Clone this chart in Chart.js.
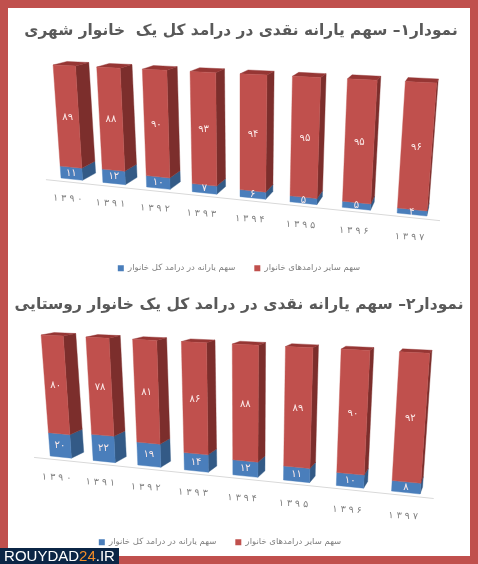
<!DOCTYPE html>
<html lang="fa">
<head>
<meta charset="utf-8">
<title>سهم یارانه نقدی</title>
<script src="https://cdn.jsdelivr.net/npm/chart.js@4"></script>
<style>
    html, body { margin: 0; padding: 0; }
    #frame { position: relative; width: 478px; height: 564px; background: #C0504D; overflow: hidden; }
    #paper { position: absolute; left: 8px; top: 8px; width: 462px; height: 548px; background: #fff; }
    canvas { position: absolute; left: 0; filter: blur(0.6px); }
    #urban { top: 0; }
    #rural { top: 285px; }
    #mark { position: absolute; left: 0; top: 548px; width: 119px; height: 16px; background: #0B2545; color: #fff;
            font: 15px/16px "Liberation Sans", sans-serif; text-align: center; white-space: nowrap; }
    #mark span { color: #F28C28; }
</style>
</head>
<body>
<div id="frame">
    <div id="paper"></div>
    <canvas id="urban" width="478" height="295" dir="rtl"></canvas>
    <canvas id="rural" width="478" height="295" dir="rtl"></canvas>
    <div id="mark">ROUYDAD<span>24</span>.IR</div>
</div>
<script>
// Data.
const years = ['۱۳۹۰', '۱۳۹۱', '۱۳۹۲', '۱۳۹۳', '۱۳۹۴', '۱۳۹۵', '۱۳۹۶', '۱۳۹۷'];
const urbanSubsidy = [11, 12, 10, 7, 6, 5, 5, 4];
const urbanOther = [89, 88, 90, 93, 94, 95, 95, 96];
const ruralSubsidy = [20, 22, 19, 14, 12, 11, 10, 8];
const ruralOther = [80, 78, 81, 86, 88, 89, 90, 92];
const subsidyLabel = 'سهم یارانه در درامد کل خانوار';
const otherLabel = 'سهم سایر درامدهای خانوار';
const urbanTitle = 'نمودار۱– سهم یارانه نقدی در درامد کل یک  خانوار شهری';
const ruralTitle = 'نمودار۲– سهم یارانه نقدی در درامد کل یک خانوار روستایی';

const FONT = '"DejaVu Sans", sans-serif';
const faDigits = (n) => String(n).replace(/\d/g, (d) => '۰۱۲۳۴۵۶۷۸۹'[d]);

// Homography from the unit square to a quad (bottom-left, bottom-right, top-right, top-left).
const squareToQuad = ([p0, p1, p2, p3]) => {
    const sx = p0[0] - p1[0] + p2[0] - p3[0], sy = p0[1] - p1[1] + p2[1] - p3[1];
    const dx1 = p1[0] - p2[0], dx2 = p3[0] - p2[0], dy1 = p1[1] - p2[1], dy2 = p3[1] - p2[1];
    const den = dx1 * dy2 - dx2 * dy1;
    const g = (sx * dy2 - dx2 * sy) / den, h = (dx1 * sy - sx * dy1) / den;
    return (u, v) => {
        const w = g * u + h * v + 1;
        return [((p1[0] - p0[0] + g * p1[0]) * u + (p3[0] - p0[0] + h * p3[0]) * v + p0[0]) / w,
                ((p1[1] - p0[1] + g * p1[1]) * u + (p3[1] - p0[1] + h * p3[1]) * v + p0[1]) / w];
    };
};

const fillQuad = (ctx, points, color) => {
    ctx.fillStyle = color;
    ctx.strokeStyle = color;
    ctx.lineWidth = 0.4;
    ctx.beginPath();
    points.forEach((p, i) => (i ? ctx.lineTo(p[0], p[1]) : ctx.moveTo(p[0], p[1])));
    ctx.closePath();
    ctx.fill();
    ctx.stroke();
};

// Replaces the flat bars with the 3D view: every corner still comes from the bar elements.
const perspectiveBars = {
    id: 'perspectiveBars',
    afterLayout(chart, args, opts) {
        // the legend is not centred under the title in the second chart
        chart.legend.left += opts.legendShift;
        chart.legend.right += opts.legendShift;
    },
    beforeDatasetsDraw(chart, args, opts) {
        const { ctx, chartArea: area } = chart;
        const map = squareToQuad(opts.quad);
        const front = (x, y) => map((x - area.left) / area.width, (area.bottom - y) / area.height);
        // depth > 0 goes towards the vanishing point, depth < 0 comes out of the front plane
        const deep = (p, k) => [p[0] + (opts.vanish[0] - p[0]) * k, p[1] + (opts.vanish[1] - p[1]) * k];

        ctx.save();
        // floor line
        ctx.strokeStyle = '#D9D9D9';
        ctx.lineWidth = 1;
        const a = deep(front(area.left, area.bottom), -0.012), b = deep(front(area.right, area.bottom), -0.012);
        ctx.beginPath();
        ctx.moveTo(a[0], a[1]);
        ctx.lineTo(b[0], b[1]);
        ctx.stroke();

        const last = chart.data.datasets.length - 1;
        chart.data.datasets.forEach((dataset, d) => {
            chart.getDatasetMeta(d).data.forEach((bar) => {
                const { x, y, base, width } = bar.getProps(['x', 'y', 'base', 'width'], true);
                const bl = front(x - width / 2, base), br = front(x + width / 2, base);
                const tr = front(x + width / 2, y), tl = front(x - width / 2, y);
                fillQuad(ctx, [br, deep(br, opts.depth), deep(tr, opts.depth), tr], dataset.sideColor);
                if (d === last) {
                    fillQuad(ctx, [tl, tr, deep(tr, opts.depth), deep(tl, opts.depth)], dataset.topColor);
                }
                fillQuad(ctx, [bl, br, tr, tl], dataset.backgroundColor);
            });
        });

        // value labels and year labels
        ctx.textAlign = 'center';
        ctx.textBaseline = 'middle';
        chart.data.datasets.forEach((dataset, d) => {
            chart.getDatasetMeta(d).data.forEach((bar, i) => {
                const { x, y, base } = bar.getProps(['x', 'y', 'base'], true);
                const p = front(x, (y + base) / 2);
                ctx.font = '10px ' + FONT;
                ctx.fillStyle = '#FBE9E8';
                ctx.fillText(faDigits(dataset.data[i]), p[0], p[1]);
            });
        });
        ctx.direction = 'ltr';
        chart.getDatasetMeta(0).data.forEach((bar, i) => {
            const p = deep(front(bar.x, area.bottom + area.height * 0.155), -0.012);
            ctx.save();
            ctx.translate(p[0], p[1]);
            ctx.rotate(0.05);
            ctx.font = '9.5px ' + FONT;
            ctx.fillStyle = '#7F7F7F';
            ctx.fillText(Array.from(chart.data.labels[i]).join(' '), 0, 0);
            ctx.restore();
        });
        ctx.restore();
        return false;
    }
};

const drawChart = (id, title, subsidy, other, view) => {
    new Chart(document.getElementById(id), {
        type: 'bar',
        data: {
            labels: years,
            datasets: [
                { label: subsidyLabel, data: subsidy, backgroundColor: '#4A7EBB', sideColor: '#335A86', topColor: '#335A86' },
                { label: otherLabel, data: other, backgroundColor: '#C0504D', sideColor: '#7C2E2C', topColor: '#963634' }
            ]
        },
        options: {
            responsive: false,
            animation: false,
            layout: { padding: view.padding },
            datasets: { bar: { categoryPercentage: 1, barPercentage: view.barShare } },
            scales: {
                x: { stacked: true, display: false },
                y: { stacked: true, display: false, min: 0, max: 100 }
            },
            plugins: {
                tooltip: { enabled: false },
                title: {
                    display: true,
                    text: title,
                    color: '#595959',
                    font: { family: FONT, size: view.titleSize, weight: 'bold' },
                    padding: { top: view.titleTop, bottom: 6 }
                },
                legend: {
                    position: 'bottom',
                    textDirection: 'rtl',
                    labels: {
                        boxWidth: 6,
                        boxHeight: 6,
                        padding: 19,
                        color: '#7F7F7F',
                        font: { family: FONT, size: 8.5 }
                    }
                },
                perspectiveBars: { quad: view.quad, vanish: view.vanish, depth: view.depth, legendShift: view.legendShift }
            }
        },
        plugins: [perspectiveBars]
    });
};

drawChart('urban', urbanTitle, urbanSubsidy, urbanOther, {
    quad: [[51.2, 177], [440.6, 217.5], [451.3, 83.7], [42.9, 64.5]],
    vanish: [490, -45],
    depth: 0.032,
    barShare: 0.52,
    titleSize: 15.4,
    titleTop: 13,
    legendShift: -2,
    padding: { left: 4, right: 0, top: 9, bottom: 12.5 }
});

drawChart('rural', ruralTitle, ruralSubsidy, ruralOther, {
    quad: [[39.7, 169.9], [434.6, 210.5], [445.1, 69], [30.2, 49.5]],
    vanish: [510, -40],
    depth: 0.028,
    barShare: 0.5,
    titleSize: 15.5,
    titleTop: 2,
    legendShift: -19,
    padding: { left: 0, right: 0, top: 9, bottom: 23.5 }
});
</script>
</body>
</html>
